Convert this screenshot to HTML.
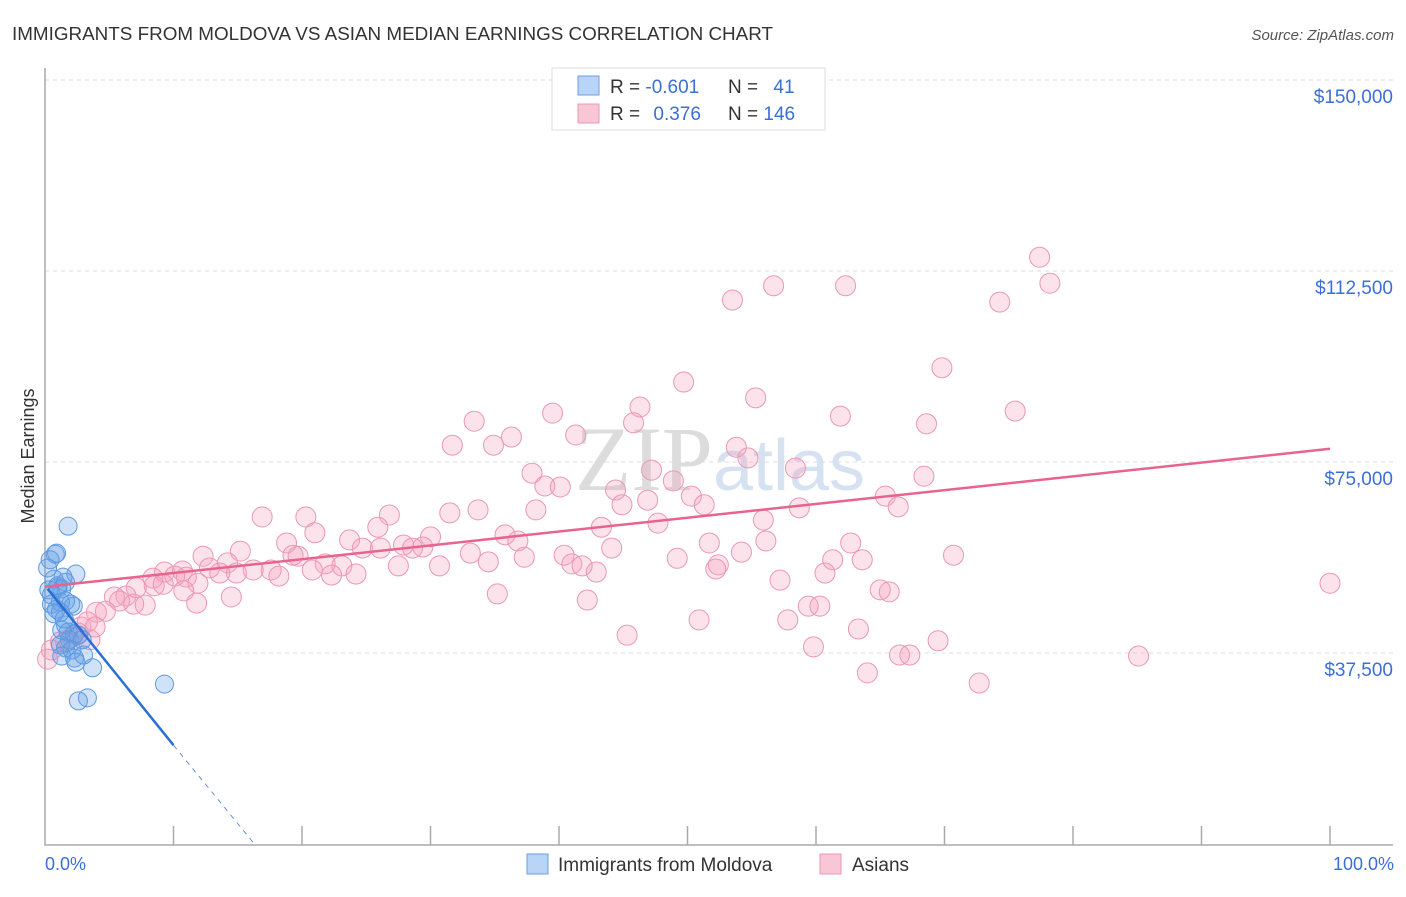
<!DOCTYPE html>
<html><head><meta charset="utf-8"><style>
body{margin:0;background:#fff;font-family:"Liberation Sans",sans-serif}
</style></head><body>
<svg width="1406" height="892" xmlns="http://www.w3.org/2000/svg" style="font-family:'Liberation Sans',sans-serif">
<text x="12" y="40" font-size="18" fill="#333" textLength="761" lengthAdjust="spacingAndGlyphs">IMMIGRANTS FROM MOLDOVA VS ASIAN MEDIAN EARNINGS CORRELATION CHART</text>
<text x="1394" y="40" font-size="15" fill="#555" font-style="italic" text-anchor="end">Source: ZipAtlas.com</text>
<text x="720" y="490" font-size="92" fill="#e4e4e4" text-anchor="middle" font-family="Liberation Serif"><tspan fill="#dcdcdc">ZIP</tspan><tspan fill="#d6e2f2" font-family="Liberation Sans" font-size="72">atlas</tspan></text>
<g id="grid"></g>
<g id="axes"></g>
<g id="pts"></g>
<g id="trend"></g>
<text transform="translate(34,456) rotate(-90)" font-size="18" fill="#333" text-anchor="middle">Median Earnings</text>
<text x="45" y="870" font-size="18" fill="#3b6fd6">0.0%</text>
<text x="1394" y="870" font-size="18" fill="#3b6fd6" text-anchor="end">100.0%</text>
<g>
<rect x="552" y="68" width="273" height="62" fill="#fff" stroke="#ddd"/>
<rect x="578" y="76" width="21" height="19" fill="#b8d4f6" stroke="#6a9fe0"/>
<rect x="578" y="104" width="21" height="19" fill="#f9c6d6" stroke="#eb97b3"/>
<text x="610" y="93" font-size="19" fill="#333">R = <tspan fill="#3b6fd6">-0.601</tspan></text>
<text x="728" y="93" font-size="19" fill="#333">N = <tspan fill="#3b6fd6" dx="10">41</tspan></text>
<text x="610" y="120" font-size="19" fill="#333">R = <tspan fill="#3b6fd6" dx="8">0.376</tspan></text>
<text x="728" y="120" font-size="19" fill="#333">N = <tspan fill="#3b6fd6">146</tspan></text>
</g>
<g>
<rect x="527" y="854" width="21" height="20" fill="#b8d4f6" stroke="#6a9fe0"/>
<text x="558" y="871" font-size="19" fill="#333">Immigrants from Moldova</text>
<rect x="820" y="854" width="21" height="20" fill="#f9c6d6" stroke="#eb97b3"/>
<text x="852" y="871" font-size="19" fill="#333">Asians</text>
</g>
</svg>
<script>
const yTicks=[37500,75000,112500,150000];
const yTickLabels=["$37,500","$75,000","$112,500","$150,000"];
const blueX=[1.8,0.8,0.9,0.4,0.2,2.4,1.4,0.7,1.0,0.3,1.3,0.5,2.0,1.6,1.2,2.2,0.5,0.9,1.2,0.7,1.5,1.6,1.8,1.3,2.3,2.6,1.9,2.9,1.2,1.6,2.1,3.0,1.3,2.3,2.4,3.7,9.3,2.6,3.3,1.0,1.6];
const blueY=[62.4,56.9,57.1,55.8,54.2,53.0,52.4,52.0,50.3,49.9,50.1,48.9,47.1,47.7,47.5,46.7,47.1,46.1,45.5,45.2,44.2,43.0,41.6,42.0,41.2,41.0,40.1,40.1,39.1,38.5,38.1,37.1,36.9,36.5,35.7,34.6,31.4,28.1,28.7,50.7,51.4];
const pinkX=[77.4,78.2,56.7,62.3,53.5,74.3,69.8,49.7,55.3,46.3,75.5,39.5,61.9,33.4,68.6,45.8,41.3,36.3,31.7,34.9,53.8,54.7,47.2,58.4,37.9,68.4,48.9,38.9,40.1,44.4,50.3,46.9,65.4,51.3,44.9,66.4,38.2,33.7,31.5,26.8,20.3,16.9,47.7,55.9,58.7,25.9,43.3,21.0,35.8,23.7,30.0,36.8,18.8,29.4,27.9,51.7,56.1,62.7,44.1,24.7,26.1,28.6,33.1,19.7,19.3,15.2,12.3,40.4,70.7,54.2,37.3,49.2,61.3,34.5,41.0,21.8,23.1,27.5,30.7,52.4,52.2,41.8,42.9,20.8,17.6,14.2,12.8,16.2,14.9,9.3,10.7,13.6,11.0,10.1,24.2,22.3,18.2,60.7,57.2,8.4,11.9,8.5,9.2,10.8,7.1,100,63.6,65.0,65.7,35.2,14.5,6.3,5.4,5.8,6.9,11.8,7.8,4.7,4.0,59.4,60.3,42.2,50.9,57.8,3.3,2.8,2.6,45.3,63.3,2.1,1.6,3.5,59.8,69.5,0.5,0.2,66.5,67.3,85.1,64.0,72.7,1.2,3.9];
const pinkY=[115.2,110.1,109.6,109.6,106.8,106.4,93.5,90.7,87.6,85.8,85.0,84.6,84.0,83.0,82.5,82.7,80.3,79.9,78.3,78.3,77.9,75.8,73.4,73.8,72.8,72.2,71.3,70.3,70.1,69.5,68.3,67.5,68.3,66.6,66.6,66.2,65.6,65.6,65.0,64.6,64.2,64.2,63.0,63.6,66.0,62.2,62.2,61.1,60.7,59.7,60.3,59.5,59.1,58.3,58.7,59.1,59.5,59.1,58.1,58.1,58.1,58.1,57.1,56.5,56.7,57.5,56.5,56.7,56.7,57.3,56.3,56.1,55.8,55.4,55.0,55.0,54.6,54.6,54.6,54.8,54.0,54.6,53.4,53.8,53.8,55.2,54.2,53.8,53.2,53.4,53.6,53.2,52.4,52.6,53.0,52.8,52.6,53.2,51.8,52.2,51.2,50.7,51.0,49.7,50.3,51.2,55.8,49.9,49.5,49.1,48.5,48.7,48.5,47.7,47.1,47.3,46.9,45.7,45.5,46.7,46.7,47.9,44.0,44.0,43.6,42.6,41.4,41.0,42.2,40.6,39.7,40.1,38.7,39.9,38.1,36.3,37.1,37.1,36.9,33.6,31.6,39.7,42.6];
const blueTrend=[[0.2,50.1],[10,19.4],[16.3,0]];
const pinkTrend=[[0,50.5],[100,77.6]];
const NS="http://www.w3.org/2000/svg";
const xs=p=>45+p*12.85;
const ys=v=>80+(150-v)/37.5*191;
function mk(t,a,parent){const e=document.createElementNS(NS,t);for(const k in a)e.setAttribute(k,a[k]);document.getElementById(parent).appendChild(e);return e;}
yTicks.forEach((t,i)=>{
 const g=mk('line',{x1:45,x2:1393,y1:ys(t/1000),y2:ys(t/1000),stroke:'#dcdcdc','stroke-dasharray':'4,4'},'grid');
 
 
 const l=mk('text',{x:1393,y:ys(t/1000)+23,'font-size':19,fill:'#3b6fd6','text-anchor':'end'},'grid');
 l.textContent=yTickLabels[i];
 
 
});
const ax=mk('path',{d:'M45,68 V845 H1393',fill:'none',stroke:'#aaa','stroke-width':1.5},'axes');


for(let i=1;i<=10;i++){const tk=mk('line',{x1:xs(i*10),x2:xs(i*10),y1:826,y2:845,stroke:'#aaa','stroke-width':1.5},'axes');
 
 }
pinkX.forEach((x,i)=>{const c=mk('circle',{cx:xs(x),cy:ys(pinkY[i]),r:10,fill:'rgba(244,160,190,0.3)',stroke:'#eb97b3','stroke-width':1},'pts');
 
 });
blueX.forEach((x,i)=>{const c=mk('circle',{cx:xs(x),cy:ys(blueY[i]),r:9,fill:'rgba(100,160,230,0.3)',stroke:'#5d98e0','stroke-width':1},'pts');
 
 });
const pt=mk('line',{x1:xs(pinkTrend[0][0]),y1:ys(pinkTrend[0][1]),x2:xs(pinkTrend[1][0]),y2:ys(pinkTrend[1][1]),stroke:'#e8648e','stroke-width':2.5},'trend');


const bt=mk('line',{x1:xs(blueTrend[0][0]),y1:ys(blueTrend[0][1]),x2:xs(blueTrend[1][0]),y2:ys(blueTrend[1][1]),stroke:'#2a6fd6','stroke-width':2.5},'trend');


const bd=mk('line',{x1:xs(blueTrend[1][0]),y1:ys(blueTrend[1][1]),x2:xs(blueTrend[2][0]),y2:ys(blueTrend[2][1]),stroke:'#6a8fd0','stroke-width':1,'stroke-dasharray':'5,5'},'trend');


</script>
</body></html>
